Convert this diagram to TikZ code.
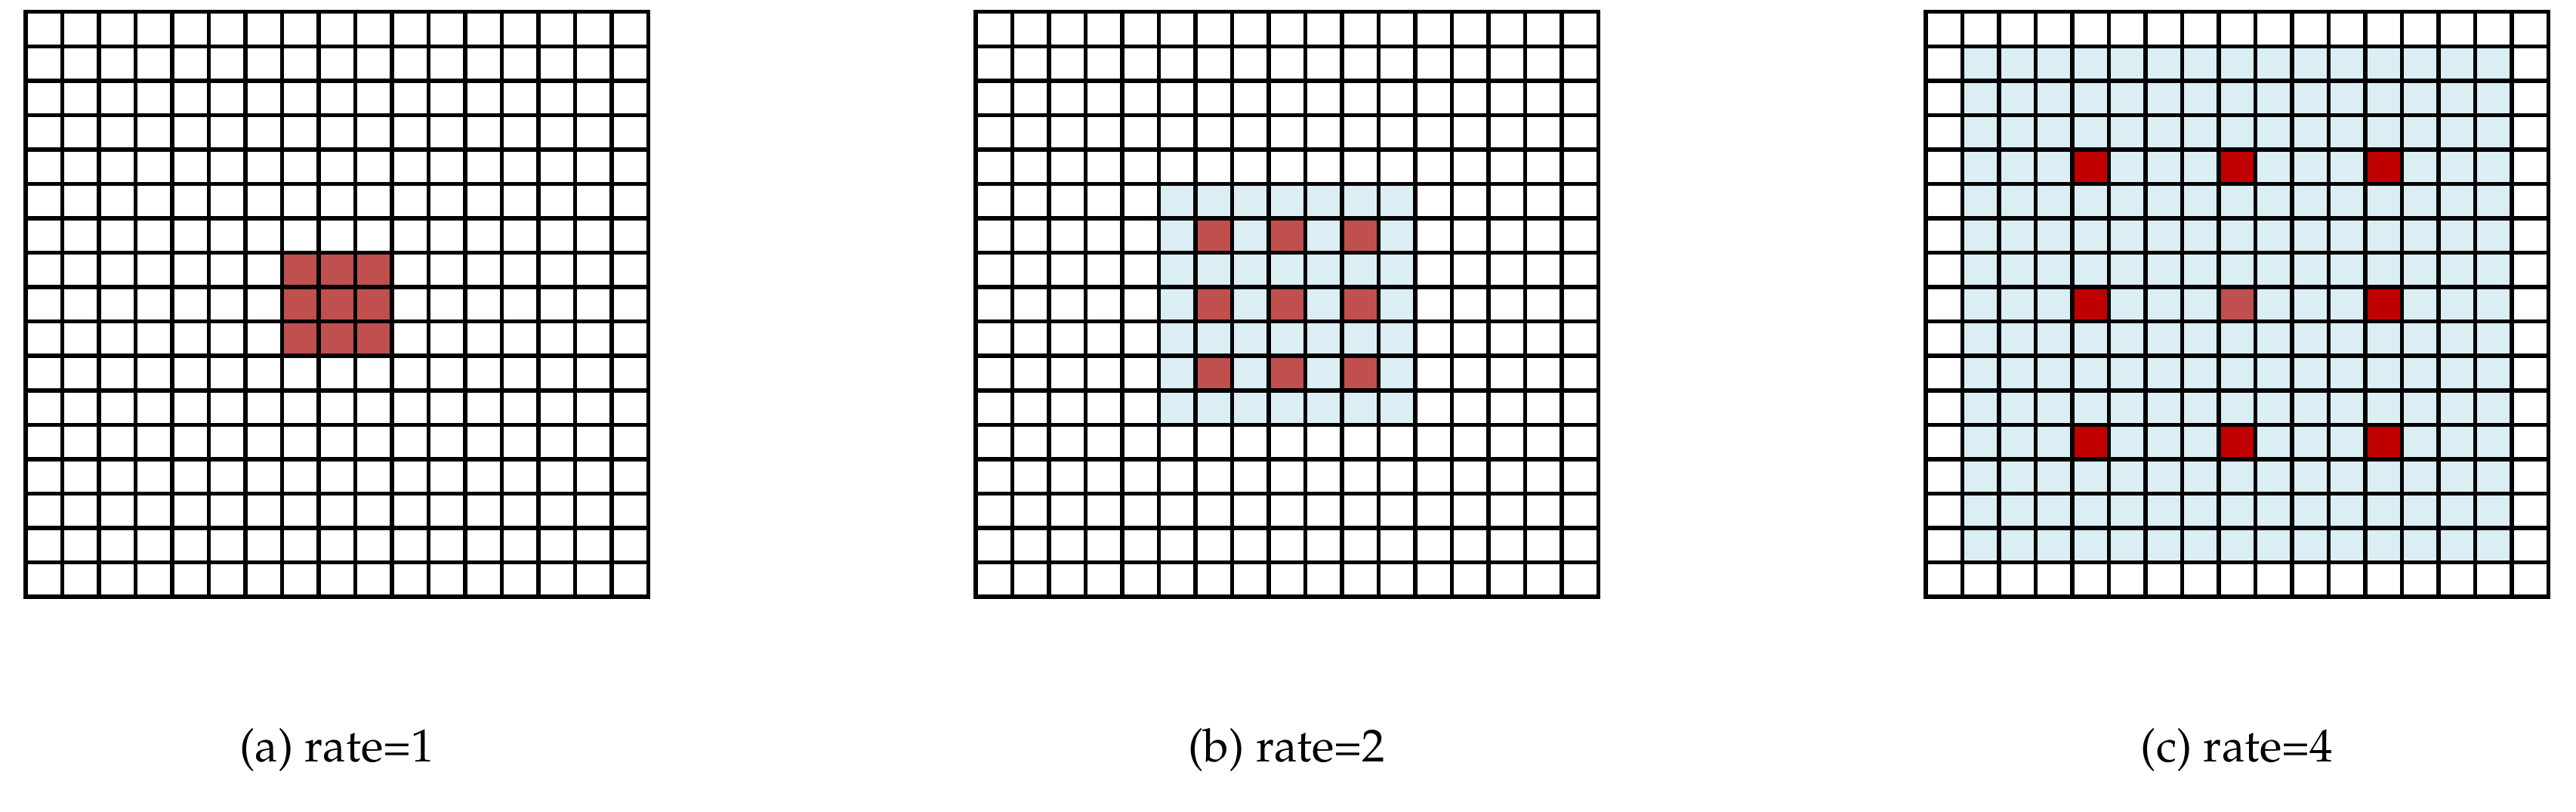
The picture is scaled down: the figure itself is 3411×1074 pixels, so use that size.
\documentclass[tikz,border=0pt]{standalone}
\usepackage[T1]{fontenc}
\usepackage{mathpazo}
\definecolor{cellred}{HTML}{C0504D}
\definecolor{celldark}{HTML}{C00000}
\definecolor{cellblue}{HTML}{DAEEF3}
\begin{document}
\begin{tikzpicture}[x=1pt,y=-1pt,
  gridline/.style={line width=5.5pt, line cap=rect, draw=black},
  captiontext/.style={font=\fontsize{61}{70}\selectfont, anchor=base, inner sep=0pt}]
\useasboundingbox (0,0) rectangle (3411,1074);
\def\cw{48.5}
\def\ch{45.55}
\def\gy{15.7}
% grid (a)
\def\gx{34}
\foreach \i in {7,8,9}{\foreach \j in {7,8,9}{
  \fill[cellred] ({\gx+\i*\cw},{\gy+\j*\ch}) rectangle ++(\cw,\ch);}}
\foreach \k in {0,...,17}{
  \draw[gridline] ({\gx+\k*\cw},\gy) -- ({\gx+\k*\cw},{\gy+17*\ch});
  \draw[gridline] (\gx,{\gy+\k*\ch}) -- ({\gx+17*\cw},{\gy+\k*\ch});}
% grid (b)
\def\gx{1292}
\fill[cellblue] ({\gx+5*\cw},{\gy+5*\ch}) rectangle ({\gx+12*\cw},{\gy+12*\ch});
\foreach \i in {6,8,10}{\foreach \j in {6,8,10}{
  \fill[cellred] ({\gx+\i*\cw},{\gy+\j*\ch}) rectangle ++(\cw,\ch);}}
\foreach \k in {0,...,17}{
  \draw[gridline] ({\gx+\k*\cw},\gy) -- ({\gx+\k*\cw},{\gy+17*\ch});
  \draw[gridline] (\gx,{\gy+\k*\ch}) -- ({\gx+17*\cw},{\gy+\k*\ch});}
% grid (c)
\def\gx{2550}
\fill[cellblue] ({\gx+1*\cw},{\gy+1*\ch}) rectangle ({\gx+16*\cw},{\gy+16*\ch});
\foreach \i in {4,8,12}{\foreach \j in {4,8,12}{
  \fill[celldark] ({\gx+\i*\cw},{\gy+\j*\ch}) rectangle ++(\cw,\ch);}}
\fill[cellred] ({\gx+8*\cw},{\gy+8*\ch}) rectangle ++(\cw,\ch);
\foreach \k in {0,...,17}{
  \draw[gridline] ({\gx+\k*\cw},\gy) -- ({\gx+\k*\cw},{\gy+17*\ch});
  \draw[gridline] (\gx,{\gy+\k*\ch}) -- ({\gx+17*\cw},{\gy+\k*\ch});}
% captions
\node[captiontext] (capa) at (446,1008) {(a) rate=1};
\node[captiontext] (capb) at (1704,1008) {(b) rate=2};
\node[captiontext] (capc) at (2962,1008) {(c) rate=4};
\end{tikzpicture}
\end{document}
